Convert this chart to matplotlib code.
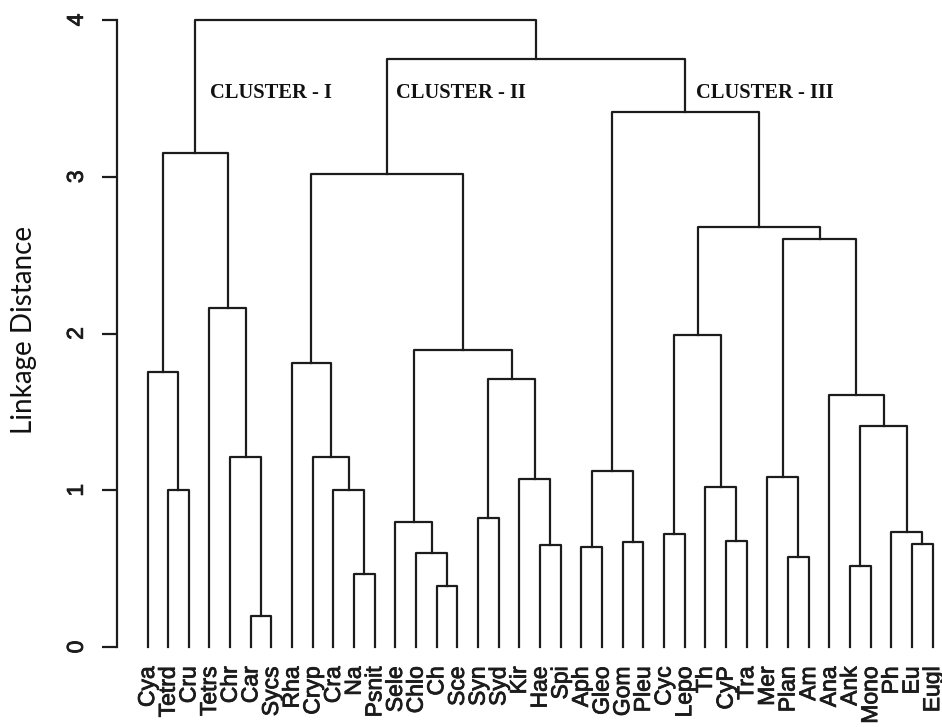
import numpy as np
import matplotlib
matplotlib.use("Agg")
from matplotlib import pyplot as plt
from matplotlib import patheffects as pe

# leaves in plotting order (left to right)
leaves = ["Cya", "Tetrd", "Cru", "Tetrs", "Chr", "Car", "Sycs", "Rha", "Cryp",
          "Cra", "Na", "Psnit", "Sele", "Chlo", "Ch", "Sce", "Syn", "Syd", "Kir",
          "Hae", "Spi", "Aph", "Gleo", "Gom", "Pleu", "Cyc", "Lepo", "Th", "CyP",
          "Tra", "Mer", "Plan", "Am", "Ana", "Ank", "Mono", "Ph", "Eu", "Eugl"]

# hclust-style merge table: negative = leaf (1-based), positive = earlier merge step
merge_left = [-6, -15, -11, -35, -32, -14, -22, -20, -38, -24, -29, -26, -37,
              -13, -17, -2, -10, -28, -19, -31, 7, -5, -9, 4, -34, 15, -1, -8,
              14, 12, -4, 20, 30, 27, 28, 21, 35, 34]
merge_right = [-7, -16, -12, -36, -33, 2, -23, -21, -39, -25, -30, -27, 9,
               6, -18, -3, 3, 11, 8, 5, 10, 1, 17, 13, 24, 19, 16, 23,
               26, 18, 22, 25, 32, 31, 29, 33, 36, 37]
merge_height = [0.20, 0.39, 0.465, 0.515, 0.575, 0.60, 0.636, 0.65, 0.655, 0.67,
                0.678, 0.72, 0.735, 0.80, 0.82, 1.00, 1.00, 1.02, 1.072, 1.085,
                1.123, 1.214, 1.214, 1.412, 1.608, 1.71, 1.752, 1.812, 1.895,
                1.99, 2.165, 2.60, 2.677, 3.154, 3.016, 3.411, 3.75, 4.00]

cluster_names = ["CLUSTER - I", "CLUSTER - II", "CLUSTER - III"]

y_ticks = [0, 1, 2, 3, 4]

ink = "#1c1c1c"
heavy = [pe.withStroke(linewidth=0.6, foreground=ink)]

fig = plt.figure(figsize=(9.42, 7.27), dpi=100)
# leaf i sits at 147.5 + 20.66*i px, h=0 at y=647 px, h=4 at y=20 px
ax = fig.add_axes([116.7 / 942, 80 / 727, 822.1 / 942, 627 / 727])
ax.set_xlim(-1.491, 38.3)
ax.set_ylim(0, 4)

line_kw = dict(color=ink, lw=1.6, solid_capstyle="projecting", clip_on=False)


def node_pos(k, xs, hs):
    if k < 0:
        return float(-k - 1), 0.0
    return xs[k - 1], hs[k - 1]


xs, hs = [], []
for a, b, h in zip(merge_left, merge_right, merge_height):
    xa, ha = node_pos(a, xs, hs)
    xb, hb = node_pos(b, xs, hs)
    ax.plot([xa, xa, xb, xb], [ha, h, h, hb], **line_kw)
    xs.append((xa + xb) / 2)
    hs.append(h)

# cluster labels
for name, xpos in zip(cluster_names, [3.025, 12.03, 26.55]):
    ax.text(xpos, 3.502, name, family="Liberation Serif", fontweight="bold",
            fontsize=14.8, ha="left", va="baseline", color="#111111")

for s in ["top", "right", "bottom"]:
    ax.spines[s].set_visible(False)
ax.spines["left"].set_bounds(0, 4)
ax.spines["left"].set_linewidth(1.6)
ax.spines["left"].set_color(ink)

ax.set_yticks(y_ticks)
ax.set_yticklabels([str(t) for t in y_ticks], rotation=90, va="center",
                   family="Liberation Sans", fontsize=16.5, color=ink)
ax.tick_params(axis="y", length=10.8, width=1.6, pad=10, color=ink)

ax.set_xticks(np.arange(len(leaves)))
ax.set_xticklabels(leaves, rotation=90, family="Liberation Sans", fontsize=16.5,
                   color=ink)
ax.tick_params(axis="x", length=0, pad=14)
for lab in ax.get_xticklabels() + ax.get_yticklabels():
    lab.set_path_effects(heavy)

fig.text(24 / 942, 1 - 330 / 727, "Linkage Distance", rotation=90, ha="center",
         va="center", family="Lato", fontsize=20, color="#111111")

fig.savefig("out.png", dpi=100, facecolor="white")
